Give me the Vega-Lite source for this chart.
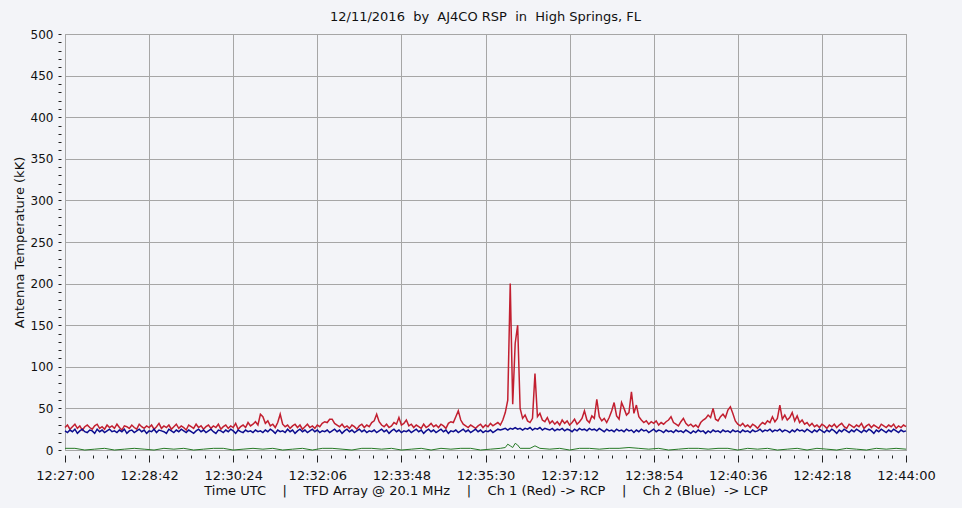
{
"$schema": "https://vega.github.io/schema/vega-lite/v6.json",
"width": 841, "height": 416,
"autosize": {"type": "none"},
"padding": {"left": 65, "top": 34, "right": 56, "bottom": 58},
"background": "#f3f4f8",
"title": {"text": "12/11/2016\u00a0\u00a0by\u00a0\u00a0AJ4CO RSP\u00a0\u00a0in\u00a0\u00a0High Springs, FL", "font": "DejaVu Sans", "fontSize": 13, "fontWeight": "normal", "color": "#111", "offset": 4},
"config": {"view": {"stroke": "#9a9a9a", "fill": "#f3f4f8"}, "font": "DejaVu Sans"},
"datasets": {
"rb": [
{"t":0,"r":27,"b":23},{"t":3,"r":30,"b":21},{"t":6,"r":25,"b":24},{"t":9,"r":28,"b":22},{"t":12,"r":31,"b":25},{"t":15,"r":26,"b":20},{"t":18,"r":29,"b":23},{"t":21,"r":24,"b":25},{"t":24,"r":28,"b":22},{"t":27,"r":30,"b":21},
{"t":30,"r":27,"b":24},{"t":33,"r":25,"b":23},{"t":36,"r":29,"b":20},{"t":39,"r":31,"b":25},{"t":42,"r":26,"b":22},{"t":45,"r":28,"b":24},{"t":48,"r":25,"b":21},{"t":51,"r":30,"b":23},{"t":54,"r":27,"b":25},{"t":57,"r":29,"b":22},
{"t":60,"r":26,"b":23},{"t":63,"r":31,"b":21},{"t":66,"r":27,"b":24},{"t":69,"r":24,"b":22},{"t":72,"r":29,"b":25},{"t":75,"r":28,"b":20},{"t":78,"r":26,"b":23},{"t":81,"r":30,"b":24},{"t":84,"r":27,"b":21},{"t":87,"r":25,"b":23},
{"t":90,"r":31,"b":25},{"t":93,"r":28,"b":22},{"t":96,"r":26,"b":24},{"t":99,"r":29,"b":20},{"t":102,"r":27,"b":23},{"t":105,"r":30,"b":22},{"t":108,"r":25,"b":25},{"t":111,"r":28,"b":21},{"t":114,"r":32,"b":24},{"t":117,"r":26,"b":23},
{"t":120,"r":29,"b":22},{"t":123,"r":27,"b":20},{"t":126,"r":30,"b":25},{"t":129,"r":25,"b":23},{"t":132,"r":28,"b":21},{"t":135,"r":31,"b":24},{"t":138,"r":26,"b":22},{"t":141,"r":29,"b":25},{"t":144,"r":27,"b":23},{"t":147,"r":24,"b":21},
{"t":150,"r":30,"b":24},{"t":153,"r":28,"b":22},{"t":156,"r":26,"b":20},{"t":159,"r":31,"b":23},{"t":162,"r":27,"b":25},{"t":165,"r":29,"b":22},{"t":168,"r":25,"b":24},{"t":171,"r":28,"b":21},{"t":174,"r":30,"b":23},{"t":177,"r":26,"b":25},
{"t":180,"r":29,"b":22},{"t":183,"r":27,"b":20},{"t":186,"r":31,"b":24},{"t":189,"r":25,"b":23},{"t":192,"r":28,"b":21},{"t":195,"r":30,"b":24},{"t":198,"r":26,"b":22},{"t":201,"r":29,"b":25},{"t":204,"r":27,"b":23},{"t":207,"r":32,"b":20},
{"t":210,"r":25,"b":24},{"t":213,"r":28,"b":22},{"t":216,"r":30,"b":21},{"t":219,"r":27,"b":24},{"t":222,"r":33,"b":22},{"t":225,"r":29,"b":23},{"t":228,"r":31,"b":21},{"t":231,"r":34,"b":24},{"t":234,"r":30,"b":22},{"t":237,"r":43,"b":23},
{"t":240,"r":40,"b":21},{"t":243,"r":32,"b":24},{"t":246,"r":35,"b":22},{"t":249,"r":29,"b":25},{"t":252,"r":31,"b":23},{"t":255,"r":27,"b":20},{"t":258,"r":33,"b":24},{"t":261,"r":43,"b":22},{"t":264,"r":31,"b":23},{"t":267,"r":28,"b":21},
{"t":270,"r":30,"b":25},{"t":273,"r":26,"b":22},{"t":276,"r":29,"b":24},{"t":279,"r":31,"b":20},{"t":282,"r":27,"b":23},{"t":285,"r":30,"b":25},{"t":288,"r":25,"b":22},{"t":291,"r":28,"b":24},{"t":294,"r":31,"b":21},{"t":297,"r":27,"b":23},
{"t":300,"r":29,"b":25},{"t":303,"r":26,"b":22},{"t":306,"r":30,"b":24},{"t":309,"r":28,"b":21},{"t":312,"r":32,"b":23},{"t":315,"r":34,"b":22},{"t":318,"r":33,"b":24},{"t":321,"r":37,"b":21},{"t":324,"r":37,"b":23},{"t":327,"r":32,"b":25},
{"t":330,"r":30,"b":22},{"t":333,"r":28,"b":24},{"t":336,"r":31,"b":20},{"t":339,"r":27,"b":23},{"t":342,"r":29,"b":25},{"t":345,"r":26,"b":22},{"t":348,"r":30,"b":24},{"t":351,"r":28,"b":21},{"t":354,"r":25,"b":23},{"t":357,"r":29,"b":25},
{"t":360,"r":31,"b":22},{"t":363,"r":27,"b":24},{"t":366,"r":30,"b":21},{"t":369,"r":28,"b":23},{"t":372,"r":33,"b":22},{"t":375,"r":35,"b":24},{"t":378,"r":43,"b":21},{"t":381,"r":34,"b":23},{"t":384,"r":30,"b":25},{"t":387,"r":28,"b":22},
{"t":390,"r":31,"b":24},{"t":393,"r":27,"b":20},{"t":396,"r":29,"b":23},{"t":399,"r":33,"b":25},{"t":402,"r":31,"b":22},{"t":405,"r":39,"b":24},{"t":408,"r":30,"b":21},{"t":411,"r":32,"b":23},{"t":414,"r":36,"b":22},{"t":417,"r":29,"b":24},
{"t":420,"r":31,"b":21},{"t":423,"r":27,"b":23},{"t":426,"r":30,"b":25},{"t":429,"r":28,"b":22},{"t":432,"r":26,"b":24},{"t":435,"r":31,"b":20},{"t":438,"r":27,"b":23},{"t":441,"r":29,"b":25},{"t":444,"r":32,"b":22},{"t":447,"r":28,"b":24},
{"t":450,"r":30,"b":21},{"t":453,"r":27,"b":23},{"t":456,"r":31,"b":25},{"t":459,"r":29,"b":22},{"t":462,"r":26,"b":24},{"t":465,"r":32,"b":20},{"t":468,"r":34,"b":23},{"t":471,"r":33,"b":22},{"t":474,"r":40,"b":24},{"t":477,"r":47,"b":21},
{"t":480,"r":36,"b":23},{"t":483,"r":31,"b":25},{"t":486,"r":29,"b":22},{"t":489,"r":27,"b":24},{"t":492,"r":30,"b":21},{"t":495,"r":28,"b":23},{"t":498,"r":26,"b":25},{"t":501,"r":29,"b":22},{"t":504,"r":31,"b":24},{"t":507,"r":27,"b":21},
{"t":510,"r":30,"b":23},{"t":513,"r":28,"b":22},{"t":516,"r":32,"b":24},{"t":519,"r":29,"b":21},{"t":522,"r":31,"b":23},{"t":525,"r":33,"b":25},{"t":528,"r":30,"b":24},{"t":531,"r":36,"b":25},{"t":534,"r":45,"b":26},{"t":537,"r":60,"b":24},
{"t":540,"r":200,"b":26},{"t":543,"r":55,"b":25},{"t":546,"r":128,"b":27},{"t":549,"r":150,"b":25},{"t":552,"r":50,"b":26},{"t":555,"r":38,"b":24},{"t":558,"r":42,"b":26},{"t":561,"r":35,"b":25},{"t":564,"r":33,"b":27},{"t":567,"r":38,"b":24},
{"t":570,"r":92,"b":26},{"t":573,"r":40,"b":25},{"t":576,"r":44,"b":27},{"t":579,"r":36,"b":24},{"t":582,"r":34,"b":26},{"t":585,"r":39,"b":25},{"t":588,"r":32,"b":24},{"t":591,"r":35,"b":26},{"t":594,"r":31,"b":23},{"t":597,"r":34,"b":25},
{"t":600,"r":30,"b":24},{"t":603,"r":36,"b":26},{"t":606,"r":32,"b":23},{"t":609,"r":35,"b":25},{"t":612,"r":30,"b":24},{"t":615,"r":33,"b":22},{"t":618,"r":37,"b":25},{"t":621,"r":31,"b":23},{"t":624,"r":34,"b":26},{"t":627,"r":38,"b":24},
{"t":630,"r":47,"b":25},{"t":633,"r":36,"b":23},{"t":636,"r":33,"b":26},{"t":639,"r":41,"b":24},{"t":642,"r":38,"b":25},{"t":645,"r":61,"b":23},{"t":648,"r":40,"b":26},{"t":651,"r":35,"b":24},{"t":654,"r":38,"b":22},{"t":657,"r":33,"b":25},
{"t":660,"r":39,"b":23},{"t":663,"r":47,"b":24},{"t":666,"r":57,"b":22},{"t":669,"r":41,"b":25},{"t":672,"r":37,"b":23},{"t":675,"r":57,"b":24},{"t":678,"r":50,"b":22},{"t":681,"r":42,"b":25},{"t":684,"r":45,"b":23},{"t":687,"r":70,"b":24},
{"t":690,"r":44,"b":21},{"t":693,"r":54,"b":24},{"t":696,"r":40,"b":22},{"t":699,"r":36,"b":25},{"t":702,"r":33,"b":23},{"t":705,"r":35,"b":24},{"t":708,"r":31,"b":21},{"t":711,"r":34,"b":23},{"t":714,"r":32,"b":25},{"t":717,"r":35,"b":22},
{"t":720,"r":30,"b":24},{"t":723,"r":33,"b":23},{"t":726,"r":31,"b":21},{"t":729,"r":34,"b":24},{"t":732,"r":36,"b":22},{"t":735,"r":40,"b":23},{"t":738,"r":33,"b":21},{"t":741,"r":31,"b":24},{"t":744,"r":29,"b":22},{"t":747,"r":34,"b":23},
{"t":750,"r":38,"b":21},{"t":753,"r":32,"b":24},{"t":756,"r":29,"b":22},{"t":759,"r":31,"b":20},{"t":762,"r":28,"b":23},{"t":765,"r":30,"b":21},{"t":768,"r":27,"b":24},{"t":771,"r":33,"b":22},{"t":774,"r":36,"b":23},{"t":777,"r":38,"b":20},
{"t":780,"r":42,"b":23},{"t":783,"r":39,"b":21},{"t":786,"r":50,"b":24},{"t":789,"r":37,"b":22},{"t":792,"r":35,"b":23},{"t":795,"r":40,"b":21},{"t":798,"r":43,"b":24},{"t":801,"r":39,"b":22},{"t":804,"r":48,"b":23},{"t":807,"r":52,"b":21},
{"t":810,"r":44,"b":24},{"t":813,"r":35,"b":22},{"t":816,"r":31,"b":23},{"t":819,"r":29,"b":21},{"t":822,"r":32,"b":24},{"t":825,"r":28,"b":22},{"t":828,"r":30,"b":23},{"t":831,"r":27,"b":21},{"t":834,"r":31,"b":24},{"t":837,"r":29,"b":22},
{"t":840,"r":26,"b":23},{"t":843,"r":30,"b":25},{"t":846,"r":33,"b":22},{"t":849,"r":31,"b":24},{"t":852,"r":35,"b":23},{"t":855,"r":33,"b":25},{"t":858,"r":40,"b":22},{"t":861,"r":34,"b":24},{"t":864,"r":38,"b":23},{"t":867,"r":54,"b":25},
{"t":870,"r":37,"b":22},{"t":873,"r":42,"b":24},{"t":876,"r":36,"b":23},{"t":879,"r":39,"b":21},{"t":882,"r":45,"b":24},{"t":885,"r":35,"b":22},{"t":888,"r":41,"b":25},{"t":891,"r":33,"b":23},{"t":894,"r":36,"b":24},{"t":897,"r":31,"b":22},
{"t":900,"r":33,"b":25},{"t":903,"r":29,"b":23},{"t":906,"r":32,"b":21},{"t":909,"r":28,"b":24},{"t":912,"r":30,"b":22},{"t":915,"r":27,"b":25},{"t":918,"r":31,"b":23},{"t":921,"r":29,"b":21},{"t":924,"r":26,"b":24},{"t":927,"r":30,"b":22},
{"t":930,"r":28,"b":25},{"t":933,"r":31,"b":23},{"t":936,"r":27,"b":20},{"t":939,"r":30,"b":24},{"t":942,"r":32,"b":22},{"t":945,"r":28,"b":25},{"t":948,"r":26,"b":23},{"t":951,"r":31,"b":21},{"t":954,"r":29,"b":24},{"t":957,"r":27,"b":22},
{"t":960,"r":30,"b":25},{"t":963,"r":28,"b":23},{"t":966,"r":32,"b":21},{"t":969,"r":26,"b":24},{"t":972,"r":29,"b":22},{"t":975,"r":31,"b":25},{"t":978,"r":27,"b":23},{"t":981,"r":30,"b":20},{"t":984,"r":28,"b":24},{"t":987,"r":26,"b":22},
{"t":990,"r":31,"b":25},{"t":993,"r":29,"b":23},{"t":996,"r":27,"b":21},{"t":999,"r":30,"b":24},{"t":1002,"r":28,"b":22},{"t":1005,"r":31,"b":25},{"t":1008,"r":26,"b":23},{"t":1011,"r":29,"b":21},{"t":1014,"r":27,"b":24},{"t":1017,"r":30,"b":22},
{"t":1020,"r":28,"b":23}
],
"g": [
{"t":0,"g":2},{"t":12,"g":2},{"t":24,"g":0},{"t":36,"g":1},{"t":48,"g":2},{"t":60,"g":0},{"t":72,"g":1},{"t":84,"g":2},{"t":96,"g":1},{"t":108,"g":0},
{"t":120,"g":2},{"t":132,"g":1},{"t":144,"g":2},{"t":156,"g":0},{"t":168,"g":1},{"t":180,"g":2},{"t":192,"g":2},{"t":204,"g":0},{"t":216,"g":1},{"t":228,"g":2},
{"t":240,"g":1},{"t":252,"g":2},{"t":264,"g":0},{"t":276,"g":1},{"t":288,"g":2},{"t":300,"g":0},{"t":312,"g":2},{"t":324,"g":2},{"t":336,"g":1},{"t":348,"g":0},
{"t":360,"g":2},{"t":372,"g":2},{"t":384,"g":1},{"t":396,"g":2},{"t":408,"g":0},{"t":420,"g":1},{"t":432,"g":2},{"t":444,"g":0},{"t":456,"g":2},{"t":468,"g":1},
{"t":480,"g":2},{"t":492,"g":2},{"t":504,"g":0},{"t":516,"g":1},{"t":528,"g":2},{"t":534,"g":3},{"t":537,"g":7},{"t":540,"g":5},{"t":543,"g":3},{"t":546,"g":8},
{"t":549,"g":6},{"t":552,"g":2},{"t":564,"g":2},{"t":570,"g":5},{"t":576,"g":2},{"t":588,"g":1},{"t":600,"g":2},{"t":612,"g":0},{"t":624,"g":2},{"t":636,"g":2},
{"t":648,"g":1},{"t":660,"g":2},{"t":672,"g":2},{"t":684,"g":3},{"t":696,"g":2},{"t":708,"g":1},{"t":720,"g":2},{"t":732,"g":0},{"t":744,"g":1},{"t":756,"g":2},
{"t":768,"g":2},{"t":780,"g":1},{"t":792,"g":2},{"t":804,"g":2},{"t":816,"g":0},{"t":828,"g":2},{"t":840,"g":1},{"t":852,"g":2},{"t":864,"g":0},{"t":876,"g":1},
{"t":888,"g":2},{"t":900,"g":0},{"t":912,"g":2},{"t":924,"g":1},{"t":936,"g":0},{"t":948,"g":2},{"t":960,"g":1},{"t":972,"g":0},{"t":984,"g":2},{"t":996,"g":1},
{"t":1008,"g":2},{"t":1020,"g":1}
]
},
"encoding": {
"x": {"field": "t", "type": "quantitative", "scale": {"domain": [0, 1020], "nice": false, "zero": false},
"axis": {
"title": "Time UTC\u00a0\u00a0\u00a0\u00a0|\u00a0\u00a0\u00a0\u00a0TFD Array @ 20.1 MHz\u00a0\u00a0\u00a0\u00a0|\u00a0\u00a0\u00a0\u00a0Ch 1 (Red) -> RCP\u00a0\u00a0\u00a0\u00a0|\u00a0\u00a0\u00a0\u00a0Ch 2 (Blue)\u00a0\u00a0-> LCP",
"values": [0,17,34,51,68,85,102,119,136,153,170,187,204,221,238,255,272,289,306,323,340,357,374,391,408,425,442,459,476,493,510,527,544,561,578,595,612,629,646,663,680,697,714,731,748,765,782,799,816,833,850,867,884,901,918,935,952,969,986,1003,1020],
"labelExpr": "datum.value % 102 === 0 ? timeFormat(datetime(2016, 11, 11, 12, 27, datum.value), '%H:%M:%S') : ''",
"labelOverlap": false, "labelFlush": false,
"tickSize": {"condition": {"test": "datum.value % 102 === 0", "value": 7}, "value": 3},
"gridOpacity": {"condition": {"test": "datum.value % 102 === 0", "value": 1}, "value": 0},
"gridColor": "#a6a6a6", "tickColor": "#222", "domain": false, "offset": 5,
"labelPadding": 7, "labelFontSize": 13, "labelColor": "#111", "labelFont": "DejaVu Sans",
"titleFontSize": 13, "titleFontWeight": "normal", "titleColor": "#111", "titleFont": "DejaVu Sans", "titlePadding": 2
}},
"y": {"field": "v", "type": "quantitative", "scale": {"domain": [0, 500], "nice": false},
"axis": {"title": "Antenna Temperature (kK)",
"values": [0,10,20,30,40,50,60,70,80,90,100,110,120,130,140,150,160,170,180,190,200,210,220,230,240,250,260,270,280,290,300,310,320,330,340,350,360,370,380,390,400,410,420,430,440,450,460,470,480,490,500],
"labelExpr": "datum.value % 50 === 0 ? datum.label : ''",
"labelOverlap": false, "labelFlush": false,
"gridOpacity": {"condition": {"test": "datum.value % 50 === 0", "value": 1}, "value": 0},
"gridColor": "#a6a6a6", "tickColor": "#222", "tickSize": 3, "domain": false, "offset": 4,
"labelPadding": 5, "labelFontSize": 12, "labelColor": "#111", "labelFont": "DejaVu Sans",
"titleFontSize": 13, "titleFontWeight": "normal", "titleColor": "#111", "titleFont": "DejaVu Sans", "titlePadding": 4
}}
},
"layer": [
{"data": {"name": "rb"}, "transform": [{"fold": ["r"], "as": ["k", "v"]}], "mark": {"type": "line", "color": "#c21f30", "strokeWidth": 1.5}},
{"data": {"name": "rb"}, "transform": [{"fold": ["b"], "as": ["k", "v"]}], "mark": {"type": "line", "color": "#0c0c8e", "strokeWidth": 1.5}},
{"data": {"name": "g"}, "transform": [{"fold": ["g"], "as": ["k", "v"]}], "mark": {"type": "line", "color": "#267a26", "strokeWidth": 1}}
]
}
